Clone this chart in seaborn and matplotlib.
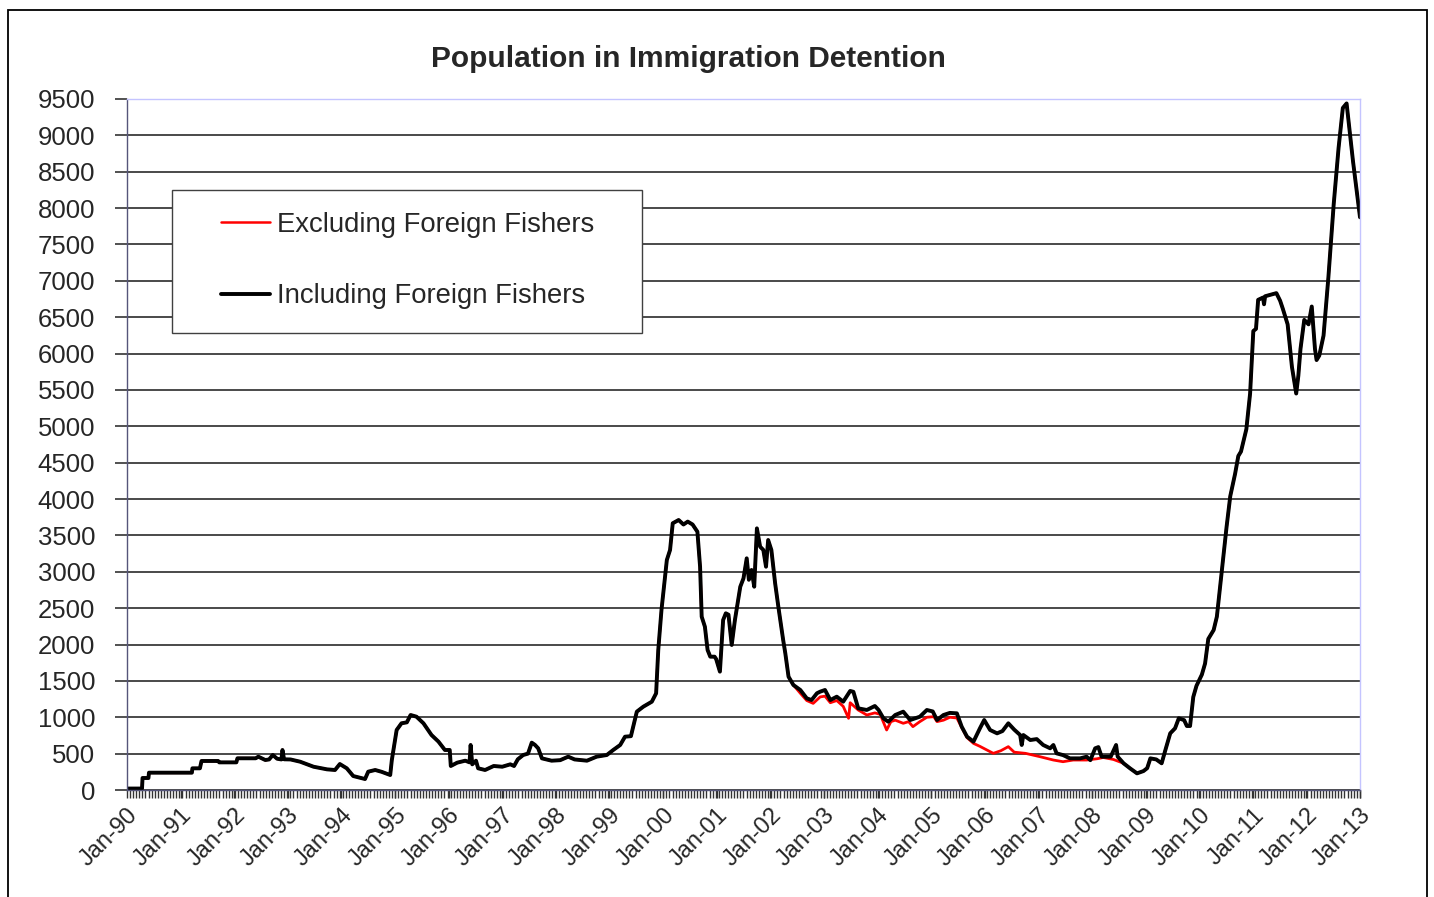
import numpy as np
import pandas as pd
import matplotlib
matplotlib.use("Agg")
import matplotlib.pyplot as plt
import seaborn as sns
from matplotlib.patches import Rectangle
from matplotlib.lines import Line2D

# Values: decimal year, people in detention
incl_year = [
    1990.00, 1990.28, 1990.29, 1990.40, 1990.41, 1991.21, 1991.22, 1991.36, 1991.39, 1991.70,
    1991.72, 1992.04, 1992.06, 1992.40, 1992.45, 1992.58, 1992.65, 1992.72, 1992.80, 1992.88,
    1992.90, 1992.93, 1993.05, 1993.23, 1993.48, 1993.73, 1993.88, 1993.97, 1994.10, 1994.22,
    1994.44, 1994.50, 1994.63, 1994.75, 1994.91, 1994.94, 1995.03, 1995.12, 1995.22, 1995.29,
    1995.40, 1995.53, 1995.68, 1995.81, 1995.93, 1996.02, 1996.04, 1996.16, 1996.31, 1996.39,
    1996.41, 1996.44, 1996.51, 1996.55, 1996.68, 1996.84, 1997.00, 1997.15, 1997.22, 1997.29,
    1997.39, 1997.48, 1997.55, 1997.61, 1997.67, 1997.74, 1997.92, 1998.08, 1998.23, 1998.35,
    1998.58, 1998.76, 1998.95, 1999.07, 1999.20, 1999.29, 1999.40, 1999.51, 1999.63, 1999.79,
    1999.87, 1999.91, 1999.97, 2000.07, 2000.13, 2000.18, 2000.29, 2000.38, 2000.46, 2000.55,
    2000.64, 2000.69, 2000.72, 2000.78, 2000.83, 2000.88, 2000.96, 2000.99, 2001.06, 2001.12,
    2001.17, 2001.22, 2001.28, 2001.34, 2001.40, 2001.44, 2001.50, 2001.56, 2001.60, 2001.65,
    2001.70, 2001.75, 2001.81, 2001.87, 2001.92, 2001.96, 2002.02, 2002.09, 2002.15, 2002.24,
    2002.28, 2002.34, 2002.43, 2002.56, 2002.68, 2002.77, 2002.87, 2002.93, 2003.02, 2003.12,
    2003.24, 2003.36, 2003.49, 2003.55, 2003.64, 2003.80, 2003.95, 2004.02, 2004.11, 2004.20,
    2004.33, 2004.48, 2004.61, 2004.79, 2004.92, 2005.03, 2005.11, 2005.23, 2005.35, 2005.48,
    2005.57, 2005.67, 2005.79, 2005.91, 2005.99, 2006.10, 2006.23, 2006.33, 2006.44, 2006.55,
    2006.66, 2006.69, 2006.72, 2006.85, 2006.97, 2007.09, 2007.22, 2007.28, 2007.34, 2007.46,
    2007.59, 2007.78, 2007.90, 2007.97, 2008.06, 2008.12, 2008.18, 2008.35, 2008.45, 2008.48,
    2008.59, 2008.71, 2008.84, 2008.96, 2009.03, 2009.09, 2009.20, 2009.30, 2009.37, 2009.46,
    2009.55, 2009.62, 2009.72, 2009.77, 2009.83, 2009.89, 2009.95, 2010.05, 2010.11, 2010.17,
    2010.27, 2010.33, 2010.42, 2010.51, 2010.58, 2010.67, 2010.73, 2010.78, 2010.88, 2010.95,
    2011.01, 2011.06, 2011.10, 2011.19, 2011.21, 2011.23, 2011.44, 2011.51, 2011.56, 2011.65,
    2011.73, 2011.81, 2011.85, 2011.89, 2011.96, 2012.04, 2012.10, 2012.16, 2012.19, 2012.24,
    2012.32, 2012.41, 2012.51, 2012.60, 2012.68, 2012.75, 2012.87, 2013.00,
]
incl_value = [
    20, 20, 165, 165, 238, 238, 298, 298, 399, 399,
    380, 380, 436, 436, 458, 412, 420, 481, 430, 420,
    550, 422, 420, 389, 320, 284, 275, 357, 298, 192,
    151, 252, 275, 250, 206, 412, 825, 917, 930, 1031,
    1008, 917, 756, 665, 550, 550, 330, 376, 403, 380,
    619, 353, 403, 298, 275, 330, 320, 353, 330, 422,
    481, 500, 651, 620, 573, 435, 403, 410, 458, 420,
    403, 458, 481, 550, 619, 733, 740, 1077, 1145, 1214,
    1329, 1925, 2475, 3162, 3300, 3667, 3712, 3650, 3690, 3650,
    3551, 3070, 2383, 2245, 1925, 1833, 1833, 1800, 1627, 2337,
    2429, 2410, 1994, 2337, 2612, 2795, 2910, 3185, 2890, 3025,
    2795, 3597, 3345, 3300, 3070, 3437, 3300, 2842, 2520, 2062,
    1879, 1558, 1444, 1375, 1260, 1237, 1330, 1352, 1375, 1237,
    1283, 1214, 1362, 1350, 1123, 1100, 1155, 1100, 986, 939,
    1031, 1077, 962, 1008, 1100, 1080, 962, 1031, 1060, 1054,
    871, 733, 665, 848, 962, 825, 779, 810, 917, 830,
    756, 619, 756, 687, 700, 619, 573, 619, 504, 480,
    435, 435, 458, 410, 573, 590, 458, 458, 619, 458,
    367, 298, 229, 260, 300, 435, 420, 367, 550, 779,
    848, 986, 960, 880, 880, 1279, 1433, 1586, 1739, 2077,
    2199, 2383, 2997, 3610, 4040, 4347, 4592, 4653, 4960, 5451,
    6310, 6340, 6739, 6770, 6678, 6788, 6831, 6727, 6617, 6402,
    5819, 5451, 5696, 6064, 6463, 6402, 6647, 6064, 5911, 5972,
    6248, 7046, 8058, 8825, 9377, 9439, 8641, 7874,
]

# Stretch where the series excluding foreign fishers runs below the total
excl_year = [
    2002.43, 2002.56, 2002.68, 2002.80, 2002.93, 2003.02, 2003.12, 2003.24, 2003.36, 2003.46,
    2003.49, 2003.64, 2003.80, 2003.95, 2004.05, 2004.17, 2004.25, 2004.33, 2004.48, 2004.58,
    2004.66, 2004.79, 2004.92, 2005.05, 2005.11, 2005.23, 2005.35, 2005.48, 2005.57, 2005.67,
    2005.79, 2005.91, 2006.04, 2006.16, 2006.30, 2006.44, 2006.55, 2006.76, 2006.90, 2007.03,
    2007.28, 2007.46, 2007.65, 2007.90, 2008.10, 2008.21, 2008.40, 2008.59,
]
excl_value = [
    1444, 1330, 1230, 1191, 1280, 1290, 1200, 1230, 1150, 986,
    1200, 1100, 1031, 1060, 1040, 825, 940, 960, 917, 940,
    871, 940, 1000, 1008, 940, 960, 1000, 990, 860, 720,
    641, 600, 550, 504, 540, 596, 520, 504, 480, 458,
    412, 389, 412, 412, 430, 447, 420, 367,
]

tick_years = list(range(1990, 2014))
tick_labels = [
    'Jan-90', 'Jan-91', 'Jan-92', 'Jan-93', 'Jan-94', 'Jan-95', 'Jan-96', 'Jan-97',
    'Jan-98', 'Jan-99', 'Jan-00', 'Jan-01', 'Jan-02', 'Jan-03', 'Jan-04', 'Jan-05',
    'Jan-06', 'Jan-07', 'Jan-08', 'Jan-09', 'Jan-10', 'Jan-11', 'Jan-12', 'Jan-13',
]

label_excl = 'Excluding Foreign Fishers'
label_incl = 'Including Foreign Fishers'

incl = pd.DataFrame({'year': incl_year, 'people': incl_value})
mid = pd.DataFrame({'year': excl_year, 'people': excl_value})
excl = pd.concat([incl[incl.year < excl_year[0]], mid, incl[incl.year > excl_year[-1]]],
                 ignore_index=True)

sns.set_style('white')
plt.rcParams['font.family'] = ['Liberation Sans', 'DejaVu Sans']

W, H = 1434, 897
fig = plt.figure(figsize=(W / 100, H / 100), dpi=100)
ax = fig.add_axes([127 / W, 1 - 790 / H, 1233 / W, 691 / H])

# red first so black sits on top, as in the original
sns.lineplot(data=excl, x='year', y='people', color='red', linewidth=2.0,
             estimator=None, sort=False, ax=ax)
sns.lineplot(data=incl, x='year', y='people', color='black', linewidth=2.8,
             estimator=None, sort=False, ax=ax)

ax.set_xlim(1990, 2013)
ax.set_ylim(0, 9500)
ax.set_xlabel('')
ax.set_ylabel('')

ax.set_yticks(range(0, 9501, 500))
ax.yaxis.grid(True, color='#3c3c3c', linewidth=1.3)
ax.xaxis.grid(False)
ax.set_axisbelow(True)

ax.set_xticks(tick_years)
ax.set_xticklabels(tick_labels, rotation=45, ha='right', va='top', rotation_mode='anchor')
ax.set_xticks(np.arange(1990, 2013.001, 21 / 365.25), minor=True)

ax.tick_params(axis='y', left=True, length=9, width=1.2, color='#333333', pad=14, labelsize=18.5)
ax.tick_params(axis='x', which='both', bottom=True, length=6, width=1.0, color='#333333',
               pad=4, labelsize=17)

for side in ['top', 'right']:
    ax.spines[side].set_color('#c4c4ff')
    ax.spines[side].set_linewidth(1.0)
for side in ['left', 'bottom']:
    ax.spines[side].set_color('#55557a')
    ax.spines[side].set_linewidth(1.0)

# legend box drawn as its own patch so the padding matches the original
ax.add_patch(Rectangle((0.0365, 0.661), 0.3812, 0.2072, transform=ax.transAxes,
                       facecolor='white', edgecolor='#404040', linewidth=1.0, zorder=3))
handles = [Line2D([], [], color='red', linewidth=1.8),
           Line2D([], [], color='black', linewidth=2.8)]
ax.legend(handles, [label_excl, label_incl], loc='upper left',
          bbox_to_anchor=(0.0762, 0.8365), frameon=False, fontsize=19.8,
          handlelength=1.8, handletextpad=0.25, labelspacing=1.65,
          borderpad=0, borderaxespad=0)

fig.text(688 / W, 1 - 59 / H, 'Population in Immigration Detention',
         ha='center', va='center', fontsize=21.5, fontweight='bold')

# outer chart border
fig.add_artist(Rectangle((8 / W, -0.02), (1427 - 8) / W, 1 - 10 / H + 0.02,
                         transform=fig.transFigure, fill=False,
                         edgecolor='black', linewidth=1.3))

fig.savefig('out.png', dpi=100)
